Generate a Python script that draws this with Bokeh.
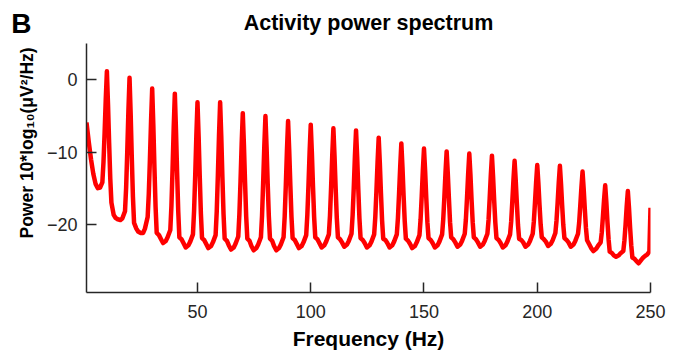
import math
from bokeh.plotting import figure
from bokeh.layouts import column
from bokeh.models import FixedTicker, Title, ColumnDataSource, Range1d
from bokeh.core.properties import value
from bokeh.embed import file_html
from bokeh.resources import INLINE

# ---- data ----
# lead-in before the first peak (Hz, dB)
lead_hz = [1, 2, 3, 4, 5, 6, 7, 8, 8.5, 9, 9.5]
lead_db = [-5.9, -8.6, -11.0, -13.0, -14.4, -15.0, -14.9, -14.2, -11.4, -7.3, -2.7]

# peaks every 10 Hz; each row gives the power at these offsets after a peak
peak_hz = [10, 20, 30, 40, 50, 60, 70, 80, 90, 100, 110, 120,
           130, 140, 150, 160, 170, 180, 190, 200, 210, 220, 230, 240]
cycle_offsets_hz = [0, 0.5, 1, 1.5, 2, 3, 3.8, 4.8, 6, 6.8, 8, 8.5, 9, 9.5]
cycle_db = [
    [1.2, -3.4, -8.8, -13.7, -17.0, -18.7, -19.1, -19.3, -19.4, -19.2, -18.2, -14.9, -9.9, -4.3],
    [0.3, -4.7, -10.8, -16.2, -19.8, -20.6, -21.0, -21.2, -21.2, -20.6, -19.0, -15.8, -11.0, -5.7],
    [-1.2, -6.2, -12.2, -17.6, -21.2, -21.5, -22.0, -22.6, -22.3, -21.8, -20.8, -17.4, -12.3, -6.6],
    [-1.9, -6.9, -12.8, -18.2, -21.8, -22.1, -22.6, -23.2, -22.9, -22.4, -21.4, -18.1, -13.2, -7.7],
    [-3.1, -7.8, -13.4, -18.5, -21.9, -22.2, -22.7, -23.3, -23.0, -22.5, -21.5, -18.2, -13.2, -7.7],
    [-3.1, -7.8, -13.5, -18.6, -22.0, -22.3, -22.9, -23.5, -23.2, -22.7, -21.7, -18.6, -14.0, -8.9],
    [-4.6, -9.0, -14.2, -18.9, -22.0, -22.3, -23.0, -23.6, -23.3, -22.8, -21.8, -18.8, -14.2, -9.2],
    [-5.0, -9.3, -14.4, -18.9, -22.0, -22.3, -23.0, -23.6, -23.3, -22.8, -21.8, -18.9, -14.6, -9.7],
    [-5.7, -9.8, -14.6, -19.0, -21.9, -22.2, -22.7, -23.3, -23.0, -22.5, -21.5, -18.7, -14.6, -10.0],
    [-6.2, -10.1, -14.8, -19.0, -21.8, -22.1, -22.6, -23.2, -22.9, -22.4, -21.4, -18.8, -14.8, -10.4],
    [-6.7, -10.5, -15.0, -19.1, -21.8, -22.1, -22.5, -23.1, -22.8, -22.3, -21.3, -18.7, -14.9, -10.6],
    [-7.0, -10.7, -15.2, -19.2, -21.9, -22.2, -22.6, -23.2, -22.9, -22.4, -21.4, -19.0, -15.4, -11.4],
    [-8.0, -11.5, -15.7, -19.5, -22.0, -22.2, -22.6, -23.2, -22.9, -22.4, -21.4, -19.1, -15.7, -12.0],
    [-8.8, -12.1, -16.1, -19.6, -22.0, -22.3, -22.7, -23.3, -23.0, -22.5, -21.5, -19.3, -16.1, -12.5],
    [-9.5, -12.6, -16.3, -19.7, -21.9, -22.2, -22.6, -23.2, -22.9, -22.4, -21.4, -19.3, -16.2, -12.8],
    [-9.9, -12.9, -16.4, -19.7, -21.8, -22.1, -22.5, -23.1, -22.8, -22.3, -21.3, -19.3, -16.3, -13.0],
    [-10.2, -13.1, -16.6, -19.7, -21.8, -22.1, -22.5, -23.1, -22.8, -22.3, -21.3, -19.4, -16.4, -13.2],
    [-10.5, -13.4, -16.8, -19.8, -21.9, -22.2, -22.6, -23.2, -22.9, -22.4, -21.4, -19.6, -16.8, -13.8],
    [-11.2, -13.9, -17.1, -20.1, -22.0, -22.2, -22.5, -23.1, -22.8, -22.3, -21.3, -19.6, -17.0, -14.2],
    [-11.8, -14.3, -17.3, -20.0, -21.8, -22.1, -22.4, -23.0, -22.7, -22.2, -21.2, -19.5, -17.0, -14.2],
    [-11.9, -14.4, -17.4, -20.1, -21.9, -22.2, -22.5, -23.1, -22.8, -22.3, -21.3, -19.8, -17.4, -14.9],
    [-12.7, -15.1, -17.9, -20.5, -22.2, -22.8, -23.3, -23.7, -23.4, -23.0, -22.5, -21.1, -18.9, -16.6],
    [-14.6, -16.9, -19.7, -22.1, -23.8, -24.0, -24.3, -24.5, -24.3, -24.0, -23.7, -22.2, -20.0, -17.5],
    [-15.4, -17.7, -20.5, -22.9, -24.6, -24.8, -25.1, -25.4, -24.9, -24.6, -24.3, -24.2, -24.0, -23.8],
]
end_hz = [250]
end_db = [-17.7]

x_ticks = [50, 100, 150, 200, 250]
y_ticks = [-20, -10, 0]
y_tick_labels = {-20: "\u221220", -10: "\u221210", 0: "0"}

title_text = "Activity power spectrum"
panel_text = "B"
x_label = "Frequency (Hz)"
y_label = "Power 10*log\u2081\u2080(\u03bcV\u00b2/Hz)"

# ---- assemble the series ----
freq = list(lead_hz)
power = list(lead_db)
for f0, row in zip(peak_hz, cycle_db):
    for off, v in zip(cycle_offsets_hz, row):
        freq.append(f0 + off)
        power.append(v)
freq += end_hz
power += end_db
src = ColumnDataSource(data=dict(freq=freq, power=power))

FONT = "Liberation Sans"
AX = "#262626"
HEAD_H = 42

# ---- header strip (panel letter + title), drawn in pixel coordinates ----
head = figure(width=680, height=HEAD_H, x_range=Range1d(0, 680), y_range=Range1d(HEAD_H, 0),
              output_backend="svg", toolbar_location=None, x_axis_type=None, y_axis_type=None,
              min_border=0)
head.frame_align = False
head.outline_line_color = None
head.background_fill_color = "white"
head.border_fill_color = "white"
head.xgrid.visible = False
head.ygrid.visible = False
head.title.visible = False
head.text(x=[10.7], y=[22.5], text=[panel_text], text_font=value(FONT), text_font_size="28px",
          text_font_style="bold", text_color="black", text_align="left",
          text_baseline="alphabetic")
head.text(x=[368], y=[22.5], text=[title_text], text_font=value(FONT), text_font_size="21.5px",
          text_font_style="bold", text_color="black", text_align="center",
          text_baseline="alphabetic")

# ---- main plot ----
p = figure(width=680, height=358 - HEAD_H, x_range=(1, 250), y_range=(-29.45, 5.05),
           output_backend="svg", toolbar_location=None,
           min_border_left=86, min_border_right=30, min_border_top=43 - HEAD_H,
           min_border_bottom=66)
p.frame_align = False
p.outline_line_color = None
p.background_fill_color = "white"
p.border_fill_color = "white"
p.xgrid.visible = False
p.ygrid.visible = False
p.title.visible = False

p.line("freq", "power", source=src, line_color="#ff0000", line_width=4.5, line_join="round")

for ax in (p.xaxis[0], p.yaxis[0]):
    ax.axis_line_color = AX
    ax.axis_line_width = 1.5
    ax.major_tick_line_color = AX
    ax.major_tick_line_width = 1.5
    ax.major_tick_in = 10
    ax.major_tick_out = 0
    ax.minor_tick_line_color = None
    ax.major_label_text_font = FONT
    ax.major_label_text_font_size = "18px"
    ax.major_label_text_color = AX

p.xaxis.major_label_standoff = 12
p.yaxis.major_label_standoff = 9
p.xaxis.ticker = FixedTicker(ticks=x_ticks)
p.yaxis.ticker = FixedTicker(ticks=y_ticks)
p.yaxis.major_label_overrides = y_tick_labels

p.xaxis.axis_label = x_label
p.xaxis.axis_label_text_font = FONT
p.xaxis.axis_label_text_font_size = "21px"
p.xaxis.axis_label_text_font_style = "bold"
p.xaxis.axis_label_text_color = "black"
p.xaxis.axis_label_standoff = 6

ylab = Title(text=y_label, align="left", offset=54,
             text_font=FONT, text_font_size="17.5px", text_font_style="bold",
             text_color="black", standoff=14)
p.add_layout(ylab, "left")

layout = column(head, p, spacing=0)
open("out.html", "w").write(file_html(layout, INLINE))
